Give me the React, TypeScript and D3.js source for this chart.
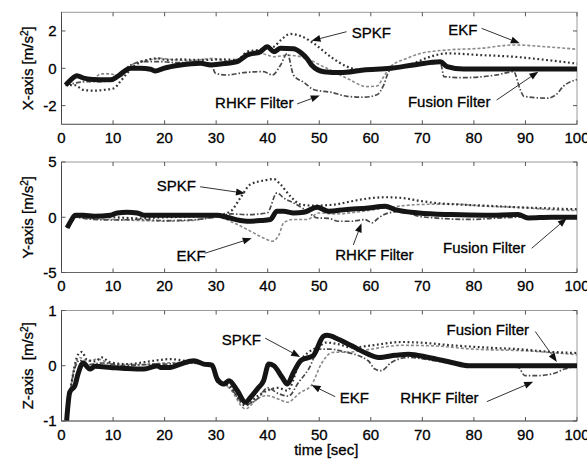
import React from 'react';
import * as d3 from 'd3';

type Pt = [number, number];

const timeTicks = [0, 10, 20, 30, 40, 50, 60, 70, 80, 90, 100];
const seriesNames = ['EKF', 'RHKF Filter', 'SPKF', 'Fusion Filter'];

// ---------- X-axis panel ----------
const xFusion: Pt[] = [[0.8,-0.9],[1.8,-0.62],[3,-0.4],[4.3,-0.53],[6.3,-0.6],[8.2,-0.62],[9.5,-0.62],[10.8,-0.45],[12.1,-0.18],[13.4,0],[15.3,0],[17.3,-0.05],[18.2,-0.15],[19.8,0],[23.1,0.18],[27,0.27],[28.9,0.18],[32.1,0.27],[34.1,0.36],[36,0.71],[38.6,0.89],[39.9,1.16],[41.2,0.89],[42.5,1.07],[45,1.05],[46.4,0.85],[47.7,0.5],[48.5,0.18],[50.9,-0.18],[54.1,-0.23],[58.6,-0.09],[63.8,0],[68.3,0.18],[73.5,0.35],[74.8,0.09],[78,-0.04],[85,-0.04],[92,-0.04],[100,-0.04]];
const xSpkf: Pt[] = [[0.8,-0.9],[2.5,-0.9],[4.3,-1.16],[6.3,-1.2],[8.2,-1.16],[10.2,-1.07],[11.4,-0.71],[12.7,-0.27],[14.4,0.18],[16.6,0.45],[18.6,0.53],[20.5,0.45],[23.1,0.48],[25.7,0.45],[28.9,0.45],[30.8,0.48],[34.1,0.45],[36,0.89],[38.6,1.0],[41.2,1.16],[42.5,1.5],[44.4,1.84],[46.4,1.73],[48.9,1.34],[52.2,0.62],[55.4,0.09],[58,-0.09],[61.9,-0.09],[65.1,0],[68.3,0.27],[71.5,0.62],[74.8,0.8],[81.3,0.71],[87.7,0.62],[94.2,0.44],[100,0.25]];
const xEkf: Pt[] = [[0.8,-0.9],[2,-0.6],[3.5,-0.5],[6,-0.6],[7.6,-0.3],[9.5,-0.3],[11.4,-0.45],[13,0.05],[14.5,0.3],[17,0.45],[19.2,0.53],[22,0.45],[25,0.42],[29.5,0.53],[32,0.4],[36,0.62],[38.6,0.8],[41.2,0.62],[43.8,0.7],[46.4,0.62],[50.9,0.08],[55.4,-0.54],[59.3,-0.98],[61.2,-0.95],[62.5,-0.45],[63.8,0.08],[67,0.53],[69.7,0.8],[74.8,0.98],[81.3,1.07],[87.7,1.25],[94.2,1.15],[100,1.02]];
const xRhkf: Pt[] = [[0.8,-0.9],[2.5,-0.8],[5,-0.71],[7.6,-0.71],[10.2,-0.53],[11.4,-0.27],[13.4,0.18],[16,0.36],[19.2,0.36],[22.4,0.3],[25.7,0.3],[28.9,0.27],[29.9,-0.27],[32.1,-0.36],[35.3,-0.23],[39.2,-0.18],[40.9,-0.36],[42.5,0.18],[43.8,0.8],[45,-0.36],[47,-0.75],[49,-1.15],[52.2,-1.28],[55.4,-1.5],[58.6,-1.55],[61.2,-1.42],[62.5,-0.9],[63.5,-0.17],[65,0.1],[68,0.15],[72,0.25],[73.5,0.3],[74.2,-0.45],[78,-0.5],[84.5,-0.35],[87.7,-0.18],[89,-1.15],[89.7,-1.5],[94.2,-1.6],[96,-1.4],[97.3,-0.98],[100,-0.6]];

// ---------- Y-axis panel ----------
const yFusion: Pt[] = [[1.1,-0.97],[1.8,-0.36],[2.7,0.18],[4.3,0.18],[6.3,0.09],[9.5,0.18],[10.8,0.39],[12.7,0.45],[14.7,0.39],[16,0.18],[19.2,0.18],[25.7,0.18],[30.2,0.18],[32.1,0],[34.7,-0.3],[36,-0.36],[38.6,-0.3],[40.5,-0.21],[41.8,0.54],[43.1,0.54],[45,0.39],[47,0.45],[49.6,0.9],[51.8,0.54],[55,0.69],[59.5,0.84],[62.8,1.0],[64.7,0.69],[69.3,0.39],[75.7,0.24],[82.2,0.18],[88.6,0.24],[90.5,-0.06],[95,0],[100,0]];
const ySpkf: Pt[] = [[1.1,-0.97],[1.8,-0.36],[2.7,0.1],[5,0.05],[10,0],[15,-0.1],[20,0.0],[25,0.05],[30.2,0.18],[32.8,0.54],[34.7,1.75],[36.6,2.96],[39.2,3.32],[41.2,3.45],[42.5,2.96],[44.4,1.9],[46.4,1.15],[49,1.05],[53,1.15],[56.3,1.45],[59.5,1.7],[62.8,1.81],[66,1.75],[69.3,1.5],[72.4,1.3],[77,1.15],[82.2,1.05],[88.6,0.9],[95,0.8],[100,0.72]];
const yEkf: Pt[] = [[1.1,-0.97],[1.8,-0.4],[2.7,0],[5,-0.1],[10,-0.2],[15,-0.3],[20,-0.35],[25,-0.3],[30.2,0],[33.4,-0.5],[36,-1.1],[39.2,-1.87],[40.9,-2.17],[42.2,-1.57],[43.1,-0.5],[45,-0.2],[47.7,-0.2],[49.9,0.39],[53,0.3],[57,0.45],[62.8,0.84],[69.3,1.15],[75.7,1.2],[82.2,1.0],[88.6,0.9],[95,0.69],[100,0.6]];
const yRhkf: Pt[] = [[1.1,-0.97],[1.8,-0.4],[2.7,0],[5,-0.15],[10,-0.25],[15,-0.2],[20,-0.3],[25,-0.25],[30.2,0.05],[33,0.3],[36,0.24],[39.9,0.39],[41.8,2.2],[43.1,1.75],[45,1.3],[47.7,0.54],[49.6,-0.06],[51.8,-0.1],[53.7,-0.36],[56.3,-0.36],[58.9,-0.21],[60.2,-0.5],[61.5,-0.06],[63.4,0.39],[66,0.54],[69.3,0.09],[72.4,-0.06],[78.9,-0.2],[85.4,-0.06],[88.6,0],[95,0],[100,0]];

// ---------- Z-axis panel ----------
const zFusion: Pt[] = [[1,-0.99],[1.6,-0.48],[2.6,-0.36],[3.2,-0.15],[4.2,0.05],[5.5,-0.06],[6.5,-0.01],[9.5,-0.03],[12.7,-0.05],[16,-0.06],[18.6,0],[19.2,-0.03],[21.1,-0.03],[23.1,0.03],[25.7,0.09],[27.6,0.03],[29.2,0.01],[30.2,-0.24],[31.5,-0.33],[32.5,-0.27],[34.1,-0.45],[35.7,-0.66],[36.7,-0.57],[38,-0.42],[39.2,-0.27],[40.2,0.03],[41.2,0],[42.8,-0.21],[43.8,-0.33],[45,-0.12],[46.5,0.1],[48.8,0.18],[50.8,0.53],[51.5,0.55],[53.7,0.48],[56.3,0.36],[59.5,0.21],[61.5,0.15],[64.8,0.19],[67.3,0.21],[71.2,0.15],[75.7,0.06],[79,0],[88.6,0],[100,0]];
const zSpkf: Pt[] = [[1,-0.99],[2.3,-0.12],[3.2,0.2],[4,0.25],[4.8,0.12],[6.5,0.08],[7.8,0.15],[9.5,0.06],[12.7,0.03],[17.9,0.09],[21.1,0.12],[25.7,0.06],[29.2,0.03],[30.2,-0.28],[32.5,-0.35],[35.7,-0.72],[38,-0.55],[39.9,-0.45],[42,-0.4],[43.8,-0.45],[46.4,0.1],[48,0.25],[50,0.35],[51.2,0.42],[53.7,0.39],[56.3,0.33],[59.5,0.36],[66,0.43],[69.3,0.42],[75.7,0.37],[82.2,0.33],[88.6,0.3],[95.1,0.25],[100,0.23]];
const zEkf: Pt[] = [[1,-0.99],[2,-0.25],[3.5,0.15],[5,0.08],[7,0.12],[10,0.03],[15,0.02],[20,0.05],[25,0.06],[29.2,0.02],[30.2,-0.3],[32.5,-0.4],[35.7,-0.78],[38,-0.6],[39.9,-0.54],[42,-0.6],[43.8,-0.66],[46.4,-0.48],[48.4,-0.36],[50.5,0.05],[52.5,0.24],[56.3,0.25],[60,0.3],[66,0.37],[72,0.36],[80,0.3],[90,0.27],[100,0.2]];
const zRhkf: Pt[] = [[1,-0.99],[2,-0.3],[3.5,0.1],[5,0.02],[8,0.05],[12,0.0],[16,0.02],[20,0.03],[25,0.05],[29.2,0.0],[30.2,-0.3],[32.5,-0.38],[35.7,-0.7],[38,-0.6],[40,-0.4],[42,-0.5],[44,-0.55],[46,-0.3],[48,-0.05],[50,0.3],[52,0.3],[55,0.25],[59.5,0.09],[60.8,-0.06],[62,-0.09],[64,0.06],[67.3,0.15],[72.5,0.09],[79,0],[88.6,-0.03],[89.9,-0.18],[91.9,-0.18],[95.1,-0.15],[97.6,-0.06],[100,0]];

// annotations: label text, text anchor point (t, v), arrow start and tip (t, v)
type Note = { text: string; at: Pt; from: Pt; to: Pt };
const xNotes: Note[] = [
  { text: 'SPKF', at: [56.3, 1.62], from: [55.3, 1.96], to: [48.5, 1.48] },
  { text: 'EKF', at: [75, 1.78], from: [81.5, 2.14], to: [88.9, 1.34] },
  { text: 'RHKF Filter', at: [29.8, -2.13], from: [45.7, -1.91], to: [50.1, -1.46] },
  { text: 'Fusion Filter', at: [67.2, -2.07], from: [84.4, -1.7], to: [92.5, -0.18] },
];
const yNotes: Note[] = [
  { text: 'SPKF', at: [18.5, 2.35], from: [26.9, 2.76], to: [35.6, 2.17] },
  { text: 'EKF', at: [22.3, -3.96], from: [27.8, -3.26], to: [36.9, -1.9] },
  { text: 'RHKF Filter', at: [53.1, -3.87], from: [56.6, -2.51], to: [58.2, -0.55] },
  { text: 'Fusion Filter', at: [74, -3.24], from: [91.2, -2.81], to: [98, -0.1] },
];
const zNotes: Note[] = [
  { text: 'SPKF', at: [31.1, 0.38], from: [39.5, 0.5], to: [46.3, 0.16] },
  { text: 'EKF', at: [54, -0.68], from: [53.1, -0.56], to: [48.5, -0.35] },
  { text: 'RHKF Filter', at: [65.7, -0.68], from: [82.5, -0.65], to: [91.5, -0.29] },
  { text: 'Fusion Filter', at: [74.7, 0.56], from: [91.9, 0.62], to: [96.1, 0.07] },
];

const xYTicks = [-2, 0, 2];
const yYTicks = [-5, 0, 5];
const zYTicks = [-1, 0, 1];

const W = 587;
const H = 466;
const LEFT = 61.5;
const RIGHT = 577;
const FONT = "'Liberation Sans', Arial, Helvetica, sans-serif";
const TXT = { fill: '#000', stroke: '#000', strokeWidth: 0.3 };

const styles: Record<string, { stroke: string; width: number; dash?: string }> = {
  'EKF': { stroke: '#8a8a8a', width: 1.6, dash: '3 2' },
  'RHKF Filter': { stroke: '#4a4a4a', width: 1.7, dash: '5 2 1.5 2' },
  'SPKF': { stroke: '#333', width: 2.2, dash: '1.8 2.6' },
  'Fusion Filter': { stroke: '#151515', width: 5 },
};

const panels = [
  { key: 'x', axis: 'X-axis', domain: [-3, 3], ticks: xYTicks, top: 12.3, bottom: 124.3,
    data: { 'EKF': xEkf, 'RHKF Filter': xRhkf, 'SPKF': xSpkf, 'Fusion Filter': xFusion } as Record<string, Pt[]>, notes: xNotes },
  { key: 'y', axis: 'Y-axis', domain: [-5, 5], ticks: yYTicks, top: 162, bottom: 272.5,
    data: { 'EKF': yEkf, 'RHKF Filter': yRhkf, 'SPKF': ySpkf, 'Fusion Filter': yFusion } as Record<string, Pt[]>, notes: yNotes },
  { key: 'z', axis: 'Z-axis\u00a0', domain: [-1, 1], ticks: zYTicks, top: 310.5, bottom: 421,
    data: { 'EKF': zEkf, 'RHKF Filter': zRhkf, 'SPKF': zSpkf, 'Fusion Filter': zFusion } as Record<string, Pt[]>, notes: zNotes },
];

function Arrow({ x1, y1, x2, y2 }: { x1: number; y1: number; x2: number; y2: number }) {
  const ang = Math.atan2(y2 - y1, x2 - x1);
  const len = 9;
  const half = 3.5;
  const bx = x2 - len * Math.cos(ang);
  const by = y2 - len * Math.sin(ang);
  const px = -Math.sin(ang) * half;
  const py = Math.cos(ang) * half;
  return (
    <g>
      <line x1={x1} y1={y1} x2={bx} y2={by} stroke="#333" strokeWidth={1} />
      <polygon points={`${x2},${y2} ${bx + px},${by + py} ${bx - px},${by - py}`} fill="#111" />
    </g>
  );
}

export default function App() {
  const x = d3.scaleLinear().domain([0, 100]).range([LEFT, RIGHT]);
  return (
    <svg width={W} height={H} style={{ position: 'absolute', left: 0, top: 0, background: '#fff' }}
      fontFamily={FONT}>
      <rect x={0} y={0} width={W} height={H} fill="#fff" />
      {panels.map((p) => {
        const y = d3.scaleLinear().domain(p.domain).range([p.bottom, p.top]);
        const line = d3.line<Pt>().x((d) => x(d[0])).y((d) => y(d[1])).curve(d3.curveMonotoneX);
        const cy = (p.top + p.bottom) / 2;
        return (
          <g key={p.key}>
            <defs>
              <clipPath id={`clip-${p.key}`}>
                <rect x={LEFT} y={p.top} width={RIGHT - LEFT} height={p.bottom - p.top} />
              </clipPath>
            </defs>
            {/* frame */}
            <rect x={LEFT} y={p.top} width={RIGHT - LEFT} height={p.bottom - p.top} fill="none" stroke="#9a9a9a" strokeWidth={1} />
            <line x1={LEFT} y1={p.top} x2={LEFT} y2={p.bottom} stroke="#444" strokeWidth={1} />
            <line x1={LEFT} y1={p.bottom} x2={RIGHT} y2={p.bottom} stroke="#666" strokeWidth={1} />
            {/* x ticks */}
            {timeTicks.map((t) => (
              <g key={t}>
                <line x1={x(t)} x2={x(t)} y1={p.bottom} y2={p.bottom - 4} stroke="#555" />
                <line x1={x(t)} x2={x(t)} y1={p.top} y2={p.top + 4} stroke="#555" />
                <text x={x(t)} y={p.bottom + 18.5} fontSize={15} textAnchor="middle" {...TXT}>{t}</text>
              </g>
            ))}
            {/* y ticks */}
            {p.ticks.map((v) => (
              <g key={v}>
                <line x1={LEFT} x2={LEFT + 4} y1={y(v)} y2={y(v)} stroke="#555" />
                <line x1={RIGHT} x2={RIGHT - 4} y1={y(v)} y2={y(v)} stroke="#555" />
                <text x={LEFT - 5} y={y(v)} dy="0.36em" fontSize={15} textAnchor="end" {...TXT}>{v}</text>
              </g>
            ))}
            {/* axis title */}
            <text transform={`translate(33,${cy}) rotate(-90)`} fontSize={15} textAnchor="middle" {...TXT}>
              {p.axis} [m/s<tspan dy={-5} fontSize={10}>2</tspan><tspan dy={5}>]</tspan>
            </text>
            {/* series */}
            <g clipPath={`url(#clip-${p.key})`}>
              {seriesNames.map((name) => {
                const s = styles[name];
                return (
                  <path key={name} d={line(p.data[name]) || ''} fill="none" stroke={s.stroke}
                    strokeWidth={s.width} strokeDasharray={s.dash} strokeLinejoin="round" />
                );
              })}
            </g>
            {/* annotations */}
            {p.notes.map((n) => (
              <g key={n.text}>
                <text x={x(n.at[0])} y={y(n.at[1])} fontSize={15} {...TXT}>{n.text}</text>
                <Arrow x1={x(n.from[0])} y1={y(n.from[1])} x2={x(n.to[0])} y2={y(n.to[1])} />
              </g>
            ))}
          </g>
        );
      })}
      <text x={(LEFT + RIGHT) / 2 + 7} y={455} fontSize={15} textAnchor="middle" {...TXT}>time [sec]</text>
    </svg>
  );
}
